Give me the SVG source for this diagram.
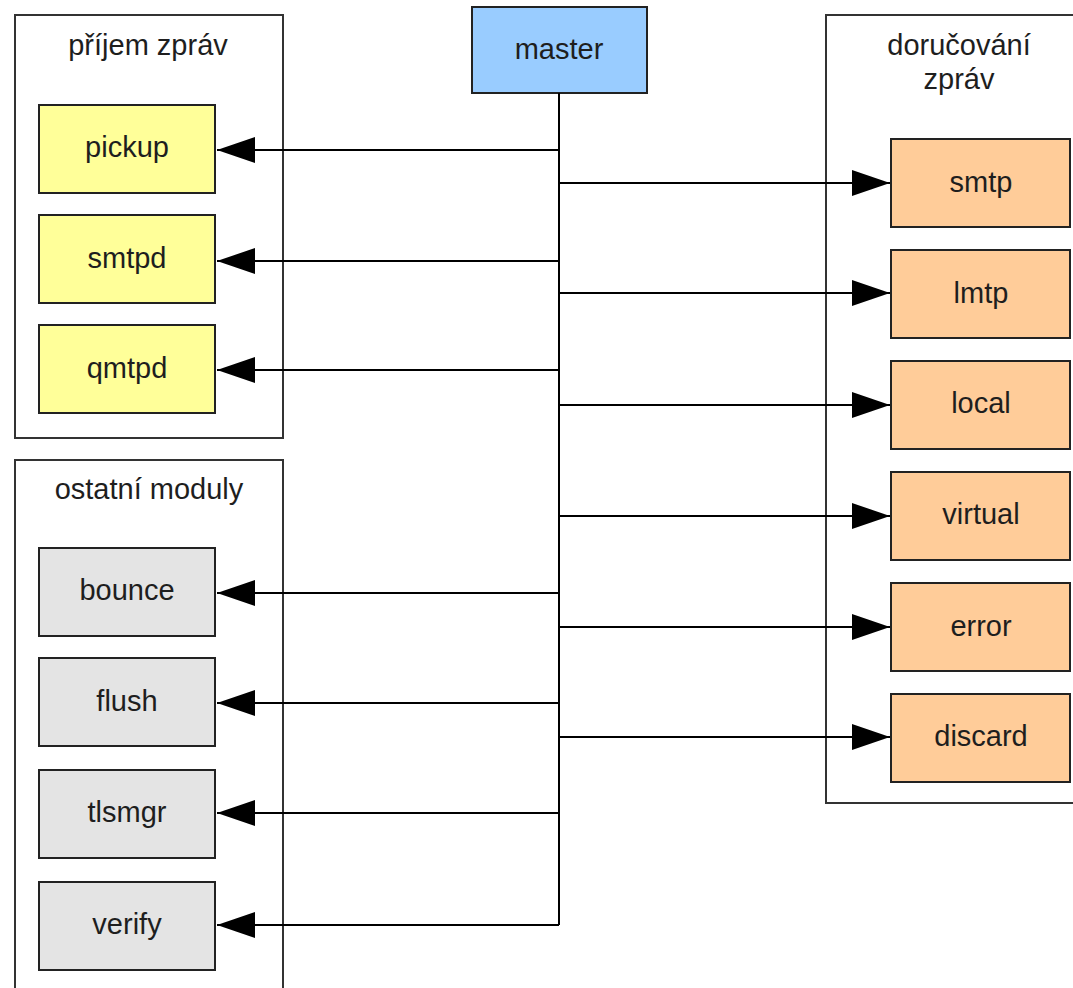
<svg xmlns="http://www.w3.org/2000/svg" width="1073" height="988" viewBox="0 0 1073 988">
<style>
.grp{fill:#fff;stroke:#333;stroke-width:2}
.box{stroke:#222;stroke-width:2}
.y{fill:#ffff99}.o{fill:#ffcc99}.b{fill:#99ccff}.g{fill:#e4e4e4}
text{font-family:"Liberation Sans",Arial,sans-serif;font-size:29px;fill:#1e1e1e;text-anchor:middle}
.c{fill:none;stroke:#000;stroke-width:2}
</style>
<defs>
<marker id="ah" markerWidth="38" markerHeight="26" refX="38" refY="13" orient="auto" markerUnits="userSpaceOnUse">
<path d="M0,0 L38,13 L0,26 Z" fill="#000"/>
</marker>
</defs>
<g id="grp-prijem"><rect class="grp" x="15" y="15" width="268" height="423"/><text x="148" y="55">příjem zpráv</text></g>
<g id="grp-ostatni"><rect class="grp" x="15" y="460" width="268" height="540"/><text x="149" y="499">ostatní moduly</text></g>
<g id="grp-doruc"><rect class="grp" x="826" y="15" width="260" height="788"/><text x="959" y="55">doručování</text><text x="959" y="89">zpráv</text></g>
<g id="master"><rect class="box b" x="472" y="7" width="175" height="86"/><text x="559" y="59">master</text></g>
<g id="pickup"><rect class="box y" x="39" y="105" width="176" height="88"/><text x="127" y="157">pickup</text></g>
<g id="smtpd"><rect class="box y" x="39" y="215" width="176" height="88"/><text x="127" y="268">smtpd</text></g>
<g id="qmtpd"><rect class="box y" x="39" y="325" width="176" height="88"/><text x="127" y="378">qmtpd</text></g>
<g id="bounce"><rect class="box g" x="39" y="548" width="176" height="88"/><text x="127" y="600">bounce</text></g>
<g id="flush"><rect class="box g" x="39" y="658" width="176" height="88"/><text x="127" y="711">flush</text></g>
<g id="tlsmgr"><rect class="box g" x="39" y="770" width="176" height="88"/><text x="127" y="822">tlsmgr</text></g>
<g id="verify"><rect class="box g" x="39" y="882" width="176" height="88"/><text x="127" y="934">verify</text></g>
<g id="smtp"><rect class="box o" x="891" y="139" width="179" height="88"/><text x="981" y="192">smtp</text></g>
<g id="lmtp"><rect class="box o" x="891" y="250" width="179" height="88"/><text x="981" y="303">lmtp</text></g>
<g id="local"><rect class="box o" x="891" y="361" width="179" height="88"/><text x="981" y="413">local</text></g>
<g id="virtual"><rect class="box o" x="891" y="472" width="179" height="88"/><text x="981" y="524">virtual</text></g>
<g id="error"><rect class="box o" x="891" y="583" width="179" height="88"/><text x="981" y="636">error</text></g>
<g id="discard"><rect class="box o" x="891" y="694" width="179" height="88"/><text x="981" y="746">discard</text></g>
<g id="connectors">
<path class="c" d="M559,93 V925"/>
<path class="c" d="M559,150 H217" marker-end="url(#ah)"/>
<path class="c" d="M559,261 H217" marker-end="url(#ah)"/>
<path class="c" d="M559,370 H217" marker-end="url(#ah)"/>
<path class="c" d="M559,593 H217" marker-end="url(#ah)"/>
<path class="c" d="M559,703 H217" marker-end="url(#ah)"/>
<path class="c" d="M559,813 H217" marker-end="url(#ah)"/>
<path class="c" d="M559,925 H217" marker-end="url(#ah)"/>
<path class="c" d="M559,183 H890" marker-end="url(#ah)"/>
<path class="c" d="M559,293 H890" marker-end="url(#ah)"/>
<path class="c" d="M559,405 H890" marker-end="url(#ah)"/>
<path class="c" d="M559,516 H890" marker-end="url(#ah)"/>
<path class="c" d="M559,627 H890" marker-end="url(#ah)"/>
<path class="c" d="M559,737 H890" marker-end="url(#ah)"/>
</g>
</svg>
